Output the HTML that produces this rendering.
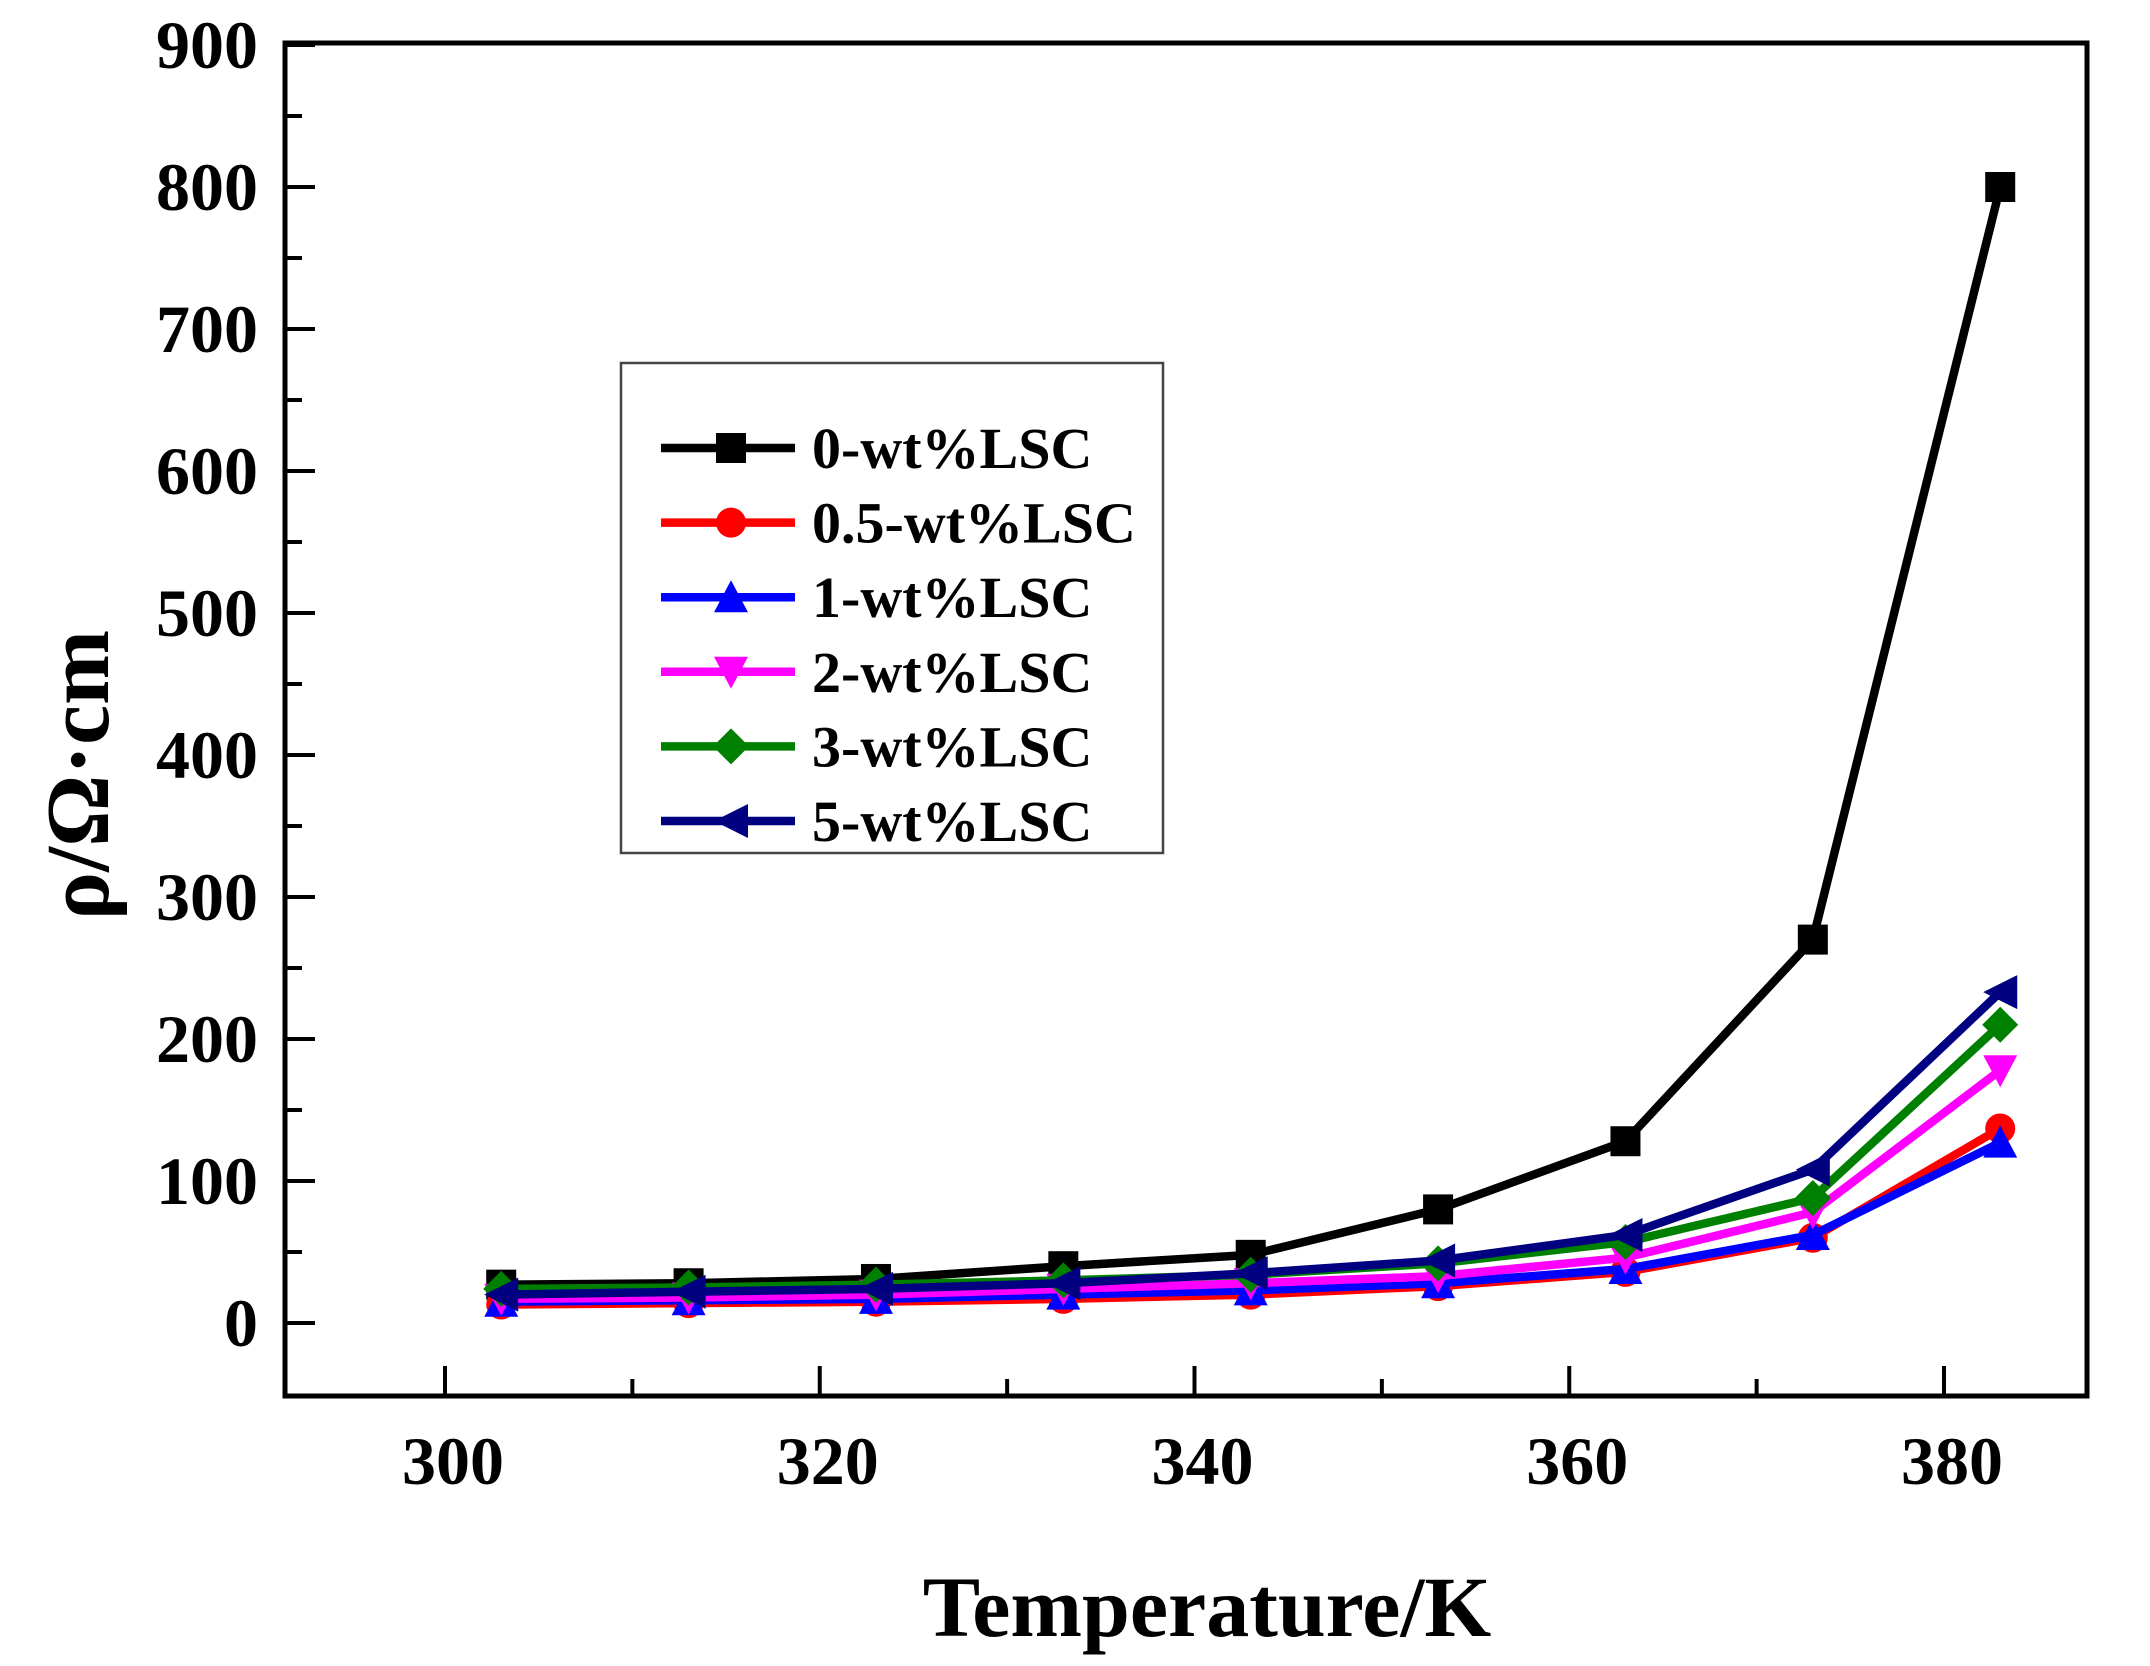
<!DOCTYPE html>
<html><head><meta charset="utf-8"><style>
html,body{margin:0;padding:0;background:#fff;}
svg{display:block;}
text{font-family:"Liberation Serif",serif;font-weight:bold;fill:#000;}
</style></head><body>
<svg id="s" width="2150" height="1666" viewBox="0 0 2150 1666" xmlns="http://www.w3.org/2000/svg">
<rect x="0" y="0" width="2150" height="1666" fill="#fff"/>
<g id="ticks" stroke="#000" stroke-width="4"></g>
<g id="labels" font-size="68"></g>
<g id="series"></g>
<rect x="285" y="43" width="1802" height="1353" fill="none" stroke="#000" stroke-width="5"/>
<rect x="621" y="363" width="542" height="490" fill="#fff" stroke="#444" stroke-width="2.5"/>
<g id="legend" font-size="58"></g>
<text x="1207" y="1636" font-size="86" text-anchor="middle">Temperature/K</text>
<text transform="translate(108,775) rotate(-90)" font-size="90" text-anchor="middle">ρ/Ω·cm</text>
</svg>
<script>
const NS="http://www.w3.org/2000/svg";
function el(t,a,p){const e=document.createElementNS(NS,t);for(const k in a)e.setAttribute(k,a[k]);p.appendChild(e);return e;}
const X=T=>445+(T-300)*18.7375, Y=v=>1323-v*1.42;
const tk=document.getElementById('ticks'), lb=document.getElementById('labels');
for(let v=0;v<=900;v+=50){const y=Y(v);const L=v%100==0?30:17;el('line',{x1:285,y1:y,x2:285+L,y2:y},tk);
 if(v%100==0){const t=el('text',{x:258,y:y+23,'text-anchor':'end'},lb);t.textContent=v;}}
for(let T=290;T<=390;T+=10){const x=X(T);if(x<287||x>2085)continue;const L=T%20==0?30:17;el('line',{x1:x,y1:1396,x2:x,y2:1396-L},tk);
 if(T%20==0){const t=el('text',{x:x+8,y:1484,'text-anchor':'middle'},lb);t.textContent=T;}}
const Ts=[303,313,323,333,343,353,363,373,383];
const S=[
 {c:'#000',m:'sq',n:'0-wt%LSC',d:[27,28,31,40,48,80,128,270,800]},
 {c:'#f00',m:'ci',n:'0.5-wt%LSC',d:[13,14,15,17,20,26,36,60,137]},
 {c:'#00f',m:'up',n:'1-wt%LSC',d:[15,16,17,20,23,28,38,62,127]},
 {c:'#f0f',m:'dn',n:'2-wt%LSC',d:[17,18,20,24,28,33,46,78,178]},
 {c:'#008000',m:'di',n:'3-wt%LSC',d:[24,25,27,30,34,42,57,88,210]},
 {c:'#000080',m:'lt',n:'5-wt%LSC',d:[20,22,24,28,35,44,62,108,233]}];
function mk(m,x,y,c,g){const r=15;let p;
 if(m=='sq')return el('rect',{x:x-r,y:y-r,width:2*r,height:2*r,fill:c},g);
 if(m=='ci')return el('circle',{cx:x,cy:y,r:r,fill:c},g);
 if(m=='up')p=[[x,y-r-2],[x+r+2,y+r],[x-r-2,y+r]];
 if(m=='dn')p=[[x,y+r+2],[x+r+2,y-r],[x-r-2,y-r]];
 if(m=='di')p=[[x,y-r-3],[x+r+3,y],[x,y+r+3],[x-r-3,y]];
 if(m=='lt')p=[[x-r-2,y],[x+r+2,y-r-2],[x+r+2,y+r+2]];
 return el('polygon',{points:p.map(q=>q.join(',')).join(' '),fill:c},g);}
const sg=document.getElementById('series'), lg=document.getElementById('legend');
S.forEach((s,i)=>{const g=el('g',{},sg);
 el('polyline',{points:Ts.map((T,j)=>X(T)+','+Y(s.d[j])).join(' '),fill:'none',stroke:s.c,'stroke-width':8.5,'stroke-linejoin':'round'},g);
 Ts.forEach((T,j)=>mk(s.m,X(T),Y(s.d[j]),s.c,g));
 const ly=448+i*74.6;
 el('line',{x1:661,y1:ly,x2:795,y2:ly,stroke:s.c,'stroke-width':8.5},lg);
 mk(s.m,731,ly,s.c,lg);
 const t=el('text',{x:812,y:ly+20},lg);t.textContent=s.n;});
</script>
</body></html>
